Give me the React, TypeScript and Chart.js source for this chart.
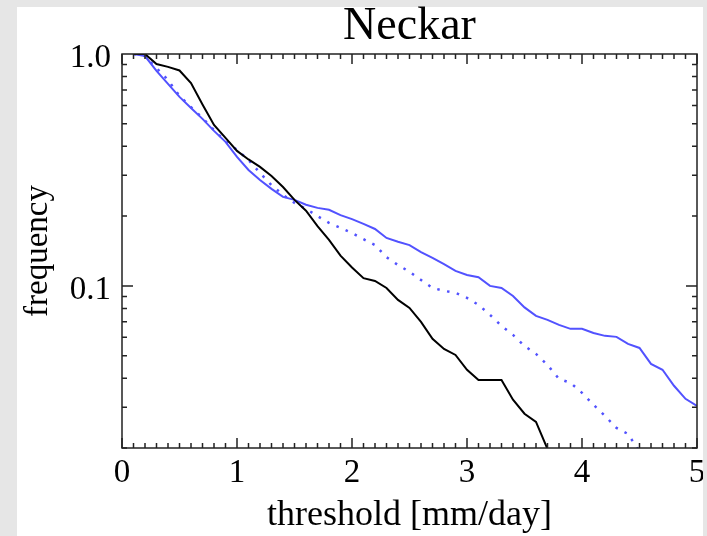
import React, { useEffect, useRef } from "react";
import { Chart, registerables } from "chart.js";

Chart.register(...registerables);

// ---- data ----
const thresholds = [
  0.1, 0.2, 0.3, 0.4, 0.5, 0.6, 0.7, 0.8, 0.9, 1.0,
  1.1, 1.2, 1.3, 1.4, 1.5, 1.6, 1.7, 1.8, 1.9, 2.0,
  2.1, 2.2, 2.3, 2.4, 2.5, 2.6, 2.7, 2.8, 2.9, 3.0,
  3.1, 3.2, 3.3, 3.4, 3.5, 3.6, 3.7, 3.8, 3.9, 4.0,
  4.1, 4.2, 4.3, 4.4, 4.5, 4.6, 4.7, 4.8, 4.9, 5.0,
];

// black solid
const blackSolid = [
  1.0, 1.0, 0.905, 0.88, 0.849, 0.75, 0.606, 0.494, 0.435, 0.382,
  0.351, 0.326, 0.298, 0.267, 0.235, 0.211, 0.181, 0.158, 0.135, 0.12,
  0.108, 0.105, 0.098, 0.087, 0.0804, 0.07, 0.0591, 0.0535, 0.0504, 0.0435,
  0.0393, 0.0393, 0.0393, 0.0323, 0.0281, 0.0259, 0.0198,
];

// blue solid
const blueSolid = [
  1.0, 0.98, 0.845, 0.743, 0.653, 0.585, 0.525, 0.466, 0.418, 0.36,
  0.316, 0.286, 0.262, 0.242, 0.235, 0.224, 0.217, 0.213, 0.202, 0.194,
  0.185, 0.176, 0.161, 0.155, 0.15, 0.14, 0.132, 0.124, 0.116, 0.1115,
  0.109, 0.1, 0.098, 0.0905, 0.0808, 0.0743, 0.0714, 0.0679, 0.0653, 0.0653,
  0.0627, 0.0609, 0.0603, 0.0562, 0.054, 0.0461, 0.0435, 0.0371, 0.0326, 0.0304,
];

// blue dotted
const blueDotted = [
  1.0, 0.98, 0.87, 0.773, 0.659, 0.59, 0.53, 0.47, 0.42, 0.386,
  0.349, 0.307, 0.272, 0.247, 0.228, 0.215, 0.2, 0.187, 0.178, 0.169,
  0.159, 0.15, 0.133, 0.123, 0.115, 0.106, 0.098, 0.0952, 0.0933, 0.0888,
  0.0828, 0.075, 0.0672, 0.0615, 0.0551, 0.0509, 0.0456, 0.0397, 0.0382, 0.0346,
  0.0307, 0.0275, 0.0244, 0.023, 0.0193,
];

const xTickValues = [0, 1, 2, 3, 4, 5];
const xTickLabels = ["0", "1", "2", "3", "4", "5"];
const yTickValues = [0.1, 1.0];
const yTickLabels = ["0.1", "1.0"];

const chartTitle = "Neckar";
const xAxisTitle = "threshold [mm/day]";
const yAxisTitle = "frequency";

const FONT = "'Liberation Serif', 'Times New Roman', serif";
const BLUE = "rgb(82,82,255)";

function toPoints(values: number[]) {
  return values.map((v, i) => ({ x: thresholds[i], y: v }));
}

const boxPlugin = {
  id: "idlBox",
  afterDatasetsDraw(chart: any) {
    const { ctx, chartArea } = chart;
    const { left, right, top, bottom } = chartArea;
    const xs = chart.scales.x;
    const ys = chart.scales.y;
    ctx.save();
    ctx.strokeStyle = "#222";
    ctx.lineWidth = 1.5;
    ctx.strokeRect(left, top, right - left, bottom - top);
    ctx.beginPath();
    // x ticks (0.1 minor, 1 major) on bottom and top
    for (let i = 0; i <= 50; i++) {
      const v = i / 10;
      const px = xs.getPixelForValue(v);
      const major = i % 10 === 0;
      const len = major ? 10 : 5;
      ctx.moveTo(px, bottom);
      ctx.lineTo(px, bottom - len);
      ctx.moveTo(px, top);
      ctx.lineTo(px, top + len);
    }
    // y ticks (log minor) on left and right
    const decades = [0.01, 0.1];
    decades.forEach((d) => {
      for (let m = 1; m <= 9; m++) {
        const v = m * d;
        if (v < ys.min - 1e-9 || v > ys.max + 1e-9) continue;
        const py = ys.getPixelForValue(v);
        const major = m === 1;
        const len = major ? 11 : 5;
        ctx.moveTo(left, py);
        ctx.lineTo(left + len, py);
        ctx.moveTo(right, py);
        ctx.lineTo(right - len, py);
      }
    });
    ctx.stroke();
    ctx.restore();
  },
};

export default function App() {
  const canvasRef = useRef<HTMLCanvasElement | null>(null);

  useEffect(() => {
    if (!canvasRef.current) return;
    const chart = new Chart(canvasRef.current, {
      type: "line",
      data: {
        datasets: [
          {
            label: "black",
            data: toPoints(blackSolid),
            borderColor: "#000",
            borderWidth: 2,
            pointRadius: 0,
            tension: 0,
            fill: false,
          },
          {
            label: "blue",
            data: toPoints(blueSolid),
            borderColor: BLUE,
            borderWidth: 2,
            pointRadius: 0,
            tension: 0,
            fill: false,
          },
          {
            label: "blue dotted",
            data: toPoints(blueDotted),
            borderColor: BLUE,
            borderWidth: 2.5,
            borderDash: [2.5, 7.5],
            pointRadius: 0,
            tension: 0,
            fill: false,
          },
        ],
      },
      options: {
        animation: false,
        responsive: false,
        devicePixelRatio: 1,
        layout: { padding: { left: 0, right: 10, top: 0, bottom: 0 } },
        plugins: {
          legend: { display: false },
          tooltip: { enabled: false },
        },
        scales: {
          x: {
            type: "linear",
            position: "bottom",
            min: 0,
            max: 5,
            afterBuildTicks: (s: any) => {
              s.ticks = xTickValues.map((v) => ({ value: v }));
            },
            afterFit: (s: any) => {
              s.height = 88;
              s.paddingRight = 0;
              s.paddingLeft = 0;
            },
            grid: { display: false, drawTicks: false },
            border: { display: false },
            ticks: {
              autoSkip: false,
              maxRotation: 0,
              padding: 6,
              color: "#000",
              font: { family: FONT, size: 33 },
              callback: (v: any) => {
                const i = xTickValues.indexOf(Number(v));
                return i >= 0 ? xTickLabels[i] : "";
              },
            },
            title: {
              display: true,
              text: xAxisTitle,
              color: "#000",
              font: { family: FONT, size: 36, lineHeight: 1.1 },
              padding: { top: 0, bottom: 1 },
            },
          },
          x2: {
            type: "linear",
            position: "top",
            min: 0,
            max: 5,
            afterFit: (s: any) => {
              s.height = 54;
              s.paddingRight = 0;
              s.paddingLeft = 0;
            },
            grid: { display: false, drawTicks: false },
            border: { display: false },
            ticks: { display: false },
            title: {
              display: true,
              text: chartTitle,
              color: "#000",
              font: { family: FONT, size: 46, lineHeight: 1.15 },
              padding: { top: 0, bottom: 0 },
            },
          },
          y: {
            type: "logarithmic",
            position: "left",
            min: 0.02,
            max: 1.0,
            afterBuildTicks: (s: any) => {
              s.ticks = yTickValues.map((v) => ({ value: v }));
            },
            afterFit: (s: any) => {
              s.width = 122;
            },
            grid: { display: false, drawTicks: false },
            border: { display: false },
            ticks: {
              autoSkip: false,
              padding: 11,
              labelOffset: 4,
              color: "#000",
              font: { family: FONT, size: 33 },
              callback: (v: any) => {
                const i = yTickValues.findIndex((t) => Math.abs(t - Number(v)) < 1e-9);
                return i >= 0 ? yTickLabels[i] : "";
              },
            },
            title: {
              display: true,
              text: yAxisTitle,
              color: "#000",
              font: { family: FONT, size: 33, lineHeight: 1.2 },
              padding: { top: 19, bottom: 0 },
            },
          },
        },
      },
      plugins: [boxPlugin],
    });
    return () => chart.destroy();
  }, []);

  return (
    <div
      style={{
        position: "absolute",
        left: 0,
        top: 0,
        width: 707,
        height: 536,
        background: "#e6e6e6",
        overflow: "hidden",
      }}
    >
      <div
        style={{
          position: "absolute",
          left: 17,
          top: 7,
          width: 686,
          height: 529,
          background: "#ffffff",
        }}
      />
      <canvas
        ref={canvasRef}
        width={707}
        height={536}
        style={{ position: "absolute", left: 0, top: 0, display: "block" }}
      />
      <div
        style={{
          position: "absolute",
          left: 703,
          top: 0,
          width: 4,
          height: 536,
          background: "#e6e6e6",
        }}
      />
    </div>
  );
}
